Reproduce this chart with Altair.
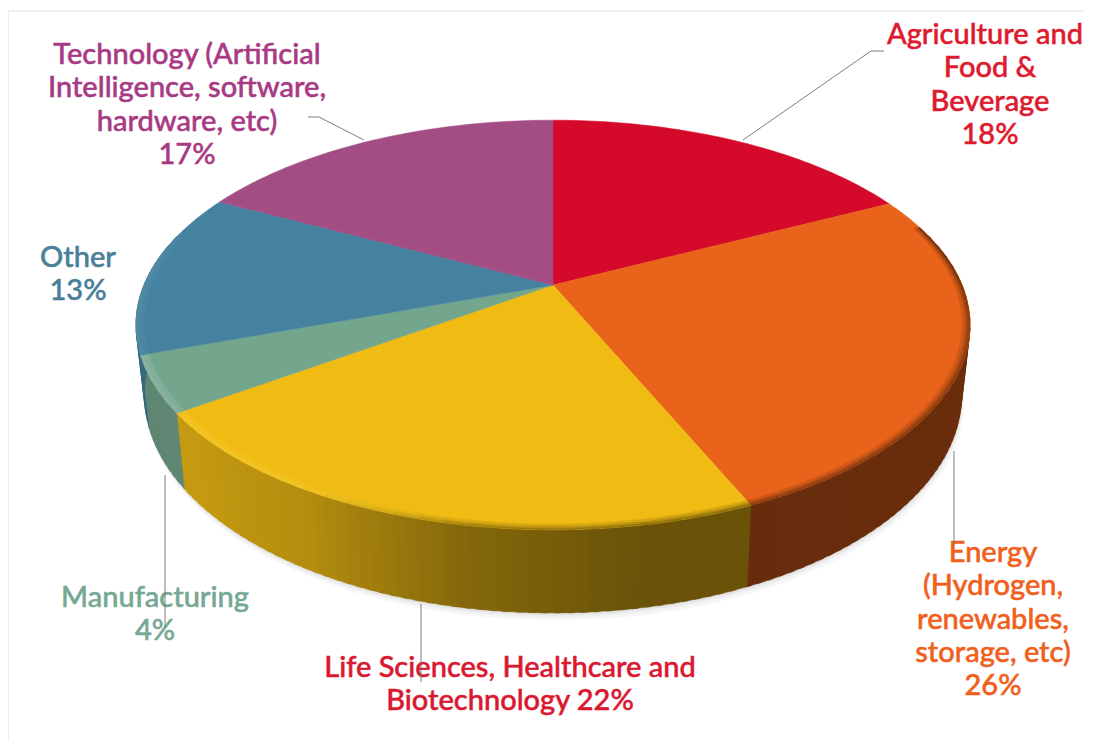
import math
import altair as alt

categories = ["Agriculture and Food & Beverage", "Energy", "Life Sciences", "Manufacturing", "Other", "Technology"]
# slice sizes as measured on the picture (labels carry the rounded percentages)
shares = [17.6, 25.9, 21.7, 4.4, 13.0, 17.4]
top_colors = ["#d50a2b", "#e9641a", "#f0bc14", "#74a58d", "#44829f", "#a24e85"]
label_lines = [
    ["Agriculture and", "Food &", "Beverage", "18%"],
    ["Energy", "(Hydrogen,", "renewables,", "storage, etc)", "26%"],
    ["Life Sciences, Healthcare and", "Biotechnology 22%"],
    ["Manufacturing", "4%"],
    ["Other", "13%"],
    ["Technology (Artificial", "Intelligence, software,", "hardware, etc)", "17%"],
]
label_colors = ["#de1a2e", "#f0601c", "#da1830", "#76a894", "#4a7f9a", "#a83a84"]
label_centers = [(990, 35), (993, 553), (510, 668), (155, 598), (78, 258), (187, 55)]
# the first Agriculture line would pass the page's edge, so it sits a little to the left
first_line_shift = [-5, 0, 0, 0, 0, 0]
leaders = [
    [(884, 51), (871, 51), (743, 140)],
    [(954, 451), (954, 545)],
    [(421, 604), (421, 682)],
    [(165, 475), (165, 627)],
    [(308, 117), (319, 117), (364, 140)],
]
frame = [[(1093, 11), (8, 11), (8, 749)]]

# view of the disc
CX, CY, A, B, K = 553, 285, 409, 197, 0.195
WALL, LEAN = 67, 0.98
# wall brightness by angle
shade_angles = [60, 85, 100, 170, 190, 210, 230, 270, 300]
shade_values = [0.32, 0.32, 0.46, 0.44, 0.55, 0.75, 0.82, 0.80, 0.60]


def shade(theta):
    for i in range(len(shade_angles) - 1):
        a, b = shade_angles[i], shade_angles[i + 1]
        if a <= theta <= b:
            t = (theta - a) / (b - a)
            return shade_values[i] + t * (shade_values[i + 1] - shade_values[i])
    return shade_values[-1]


def pt(theta, r=1.0):
    t = math.radians(theta)
    u, v = r * math.sin(t), r * math.cos(t)
    w = 1 + K * v
    return CX + A * u / w, CY - B * v / w, w


def low(theta, extra=0):
    x, y, w = pt(theta)
    return CX + (x - CX) * LEAN + extra * 0.3, y + WALL / w + extra


def rgb(c):
    return [int(c[i:i + 2], 16) for i in (1, 3, 5)]


def to_hex(v):
    return "#%02x%02x%02x" % tuple(max(0, min(255, round(x))) for x in v)


def mul(c, f):
    return to_hex([x * f for x in rgb(c)])


def mix(c1, c2, t):
    a, b = rgb(c1), rgb(c2)
    return to_hex([a[i] + t * (b[i] - a[i]) for i in range(3)])


def poly(pts, color):
    ring = [[float(p[0]), float(p[1])] for p in pts]
    ring.append(ring[0])
    return {"type": "Feature", "properties": {"color": color},
            "geometry": {"type": "Polygon", "coordinates": [ring]}}


edges = [0.0]
for s in shares:
    edges.append(edges[-1] + s * 3.6)

features = []
for extra, col in [(7, "#f6f6f6"), (4, "#eeeeee"), (2, "#e2e2e2")]:
    features.append(poly([low(a, extra) for a in range(75, 285, 3)], col))

STEP = 1.5
for i, col in enumerate(top_colors):
    a0, a1 = max(edges[i], 78), min(edges[i + 1], 282)
    a = a0
    while a < a1:
        b = min(a + STEP, a1)
        over = min(b + 0.7, a1)
        c = mul(col, shade((a + b) / 2))
        features.append(poly([pt(a)[:2], pt(over)[:2], low(over), low(a)], c))
        a = b

for i, col in enumerate(top_colors):
    steps = max(2, int(edges[i + 1] - edges[i]))
    arc = [pt(edges[i] + (edges[i + 1] - edges[i]) * j / steps)[:2] for j in range(steps + 1)]
    features.append(poly([(CX, CY)] + arc, col))

# soft rounded rim: bands from the outer edge inwards
BANDS = [(1.0, 0.994, 0.7), (0.994, 0.988, 0.45), (0.988, 0.982, 0.2)]
lit_tint = [0.02, 0.02, 0.12, 0.12, 0.05, 0.02]
for i, col in enumerate(top_colors):
    a0, a1 = max(edges[i], 72), min(edges[i + 1], 285)
    a = a0
    while a < a1:
        b = min(a + 3, a1)
        over = min(b + 1, a1)
        s = shade((a + b) / 2)
        wall = mul(col, s)
        lit = max(0.0, min(1.0, (s - 0.55) / 0.2))
        for r1, r2, t in BANDS:
            dark_c = mix(col, wall, t)
            lit_c = mix(col, "#ffe97a" if i == 2 else "#ffffff", lit_tint[i] * (0.6 + t))
            features.append(poly([pt(a, r1)[:2], pt(over, r1)[:2], pt(over, r2)[:2], pt(a, r2)[:2]],
                                 mix(dark_c, lit_c, lit)))
        a = b

line_features = []
for path in frame:
    line_features.append({"type": "Feature", "properties": {"color": "#e4e4e4", "w": 1.2},
                          "geometry": {"type": "LineString", "coordinates": [list(map(float, p)) for p in path]}})
for path in leaders:
    line_features.append({"type": "Feature", "properties": {"color": "#6e6e6e", "w": 0.9},
                          "geometry": {"type": "LineString", "coordinates": [list(map(float, p)) for p in path]}})

rows = []
for lines, col, (cx, cy), shift in zip(label_lines, label_colors, label_centers, first_line_shift):
    for j, line in enumerate(lines):
        rows.append({"text": line, "color": col, "px": cx - 8 + (shift if j == 0 else 0), "py": cy + j * 33.3 - 8})

shapes = alt.Chart(alt.Data(values=features)).mark_geoshape(strokeWidth=0.5).encode(
    fill=alt.Fill("properties.color:N", scale=None),
    stroke=alt.Stroke("properties.color:N", scale=None),
).project(type="identity", scale=1, translate=[-8, -8])

lines_layer = alt.Chart(alt.Data(values=line_features)).mark_geoshape(filled=False).encode(
    stroke=alt.Stroke("properties.color:N", scale=None),
    strokeWidth=alt.StrokeWidth("properties.w:Q", scale=None),
).project(type="identity", scale=1, translate=[-8, -8])

text = alt.Chart(alt.Data(values=rows)).mark_text(
    font="Lato", fontSize=29, fontWeight=500, align="center", baseline="middle", strokeWidth=0.5
).encode(
    text="text:N",
    color=alt.Color("color:N", scale=None),
    stroke=alt.Stroke("color:N", scale=None),
    x=alt.X("px:Q", scale=None),
    y=alt.Y("py:Q", scale=None),
)

chart = alt.layer(shapes, text, lines_layer).properties(
    width=1077, height=733, autosize=alt.AutoSizeParams(type="none"), padding=0
).configure_view(stroke=None)

chart.save("out.html", embed_options={"renderer": "svg", "actions": False})
